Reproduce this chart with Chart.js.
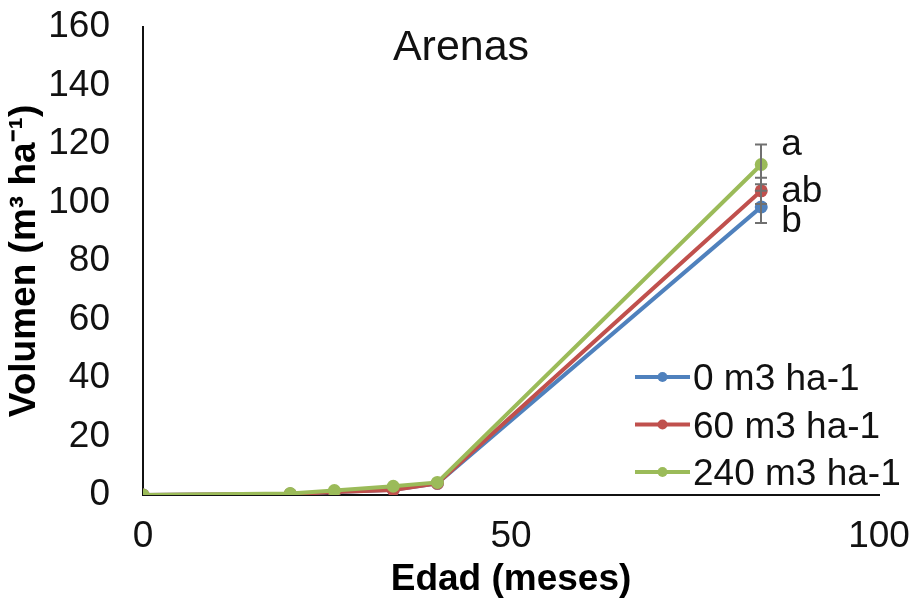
<!DOCTYPE html>
<html>
<head>
<meta charset="utf-8">
<script src="https://cdn.jsdelivr.net/npm/chart.js@4"></script>
<style>
  html, body { margin: 0; padding: 0; background: #fff; }
  canvas { display: block; }
</style>
</head>
<body>
<canvas id="c" width="916" height="606"></canvas>
<script>
// ---- data ----
const ages = [0, 20, 26, 34, 40, 84];
const seriesLabels = ['0 m3 ha-1', '60 m3 ha-1', '240 m3 ha-1'];
const vol0 = [0, 0.3, 1.0, 1.8, 4.0, 98.5];
const vol60 = [0, 0.3, 1.0, 1.7, 4.0, 104];
const vol240 = [0, 0.5, 1.5, 3.0, 4.3, 113];
const err0 = [0, 0, 0, 0, 0, 5.5];
const err60 = [0, 0, 0, 0, 0, 4.5];
const err240 = [0, 0, 0, 0, 0, 6.8];
const letterTexts = ['b', 'ab', 'a'];
const letterY = [89.9, 100.2, 116.2];
const letterX = [84, 84, 84];
const yTickValues = [0, 20, 40, 60, 80, 100, 120, 140, 160];
const xTickValues = [0, 50, 100];
const chartTitle = 'Arenas';

const colors = ['#4F81BD', '#C0504D', '#9BBB59'];
const FONT = "'Liberation Sans', Arial, sans-serif";

function pts(xs, ys) { return xs.map((x, i) => ({ x: x, y: ys[i] })); }

const seriesValues = [vol0, vol60, vol240];
const seriesErrors = [err0, err60, err240];

const datasets = seriesValues.map((vals, i) => ({
  label: seriesLabels[i],
  data: pts(ages, vals),
  borderColor: colors[i],
  backgroundColor: colors[i],
  borderWidth: 4,
  pointRadius: 6.5,
  pointHoverRadius: 6.5,
  pointBorderWidth: 0,
  tension: 0,
  order: 2 - i,
  errors: seriesErrors[i]
}));

function noPad(s) { s.paddingTop = 0; s.paddingBottom = 0; s.paddingLeft = 0; s.paddingRight = 0; }

const extras = {
  id: 'extras',
  afterDatasetsDraw(chart) {
    const ctx = chart.ctx;
    const xs = chart.scales.x, ys = chart.scales.y;
    ctx.save();
    ctx.strokeStyle = '#707070';
    ctx.lineWidth = 2;
    chart.data.datasets.forEach((ds) => {
      ds.data.forEach((p, j) => {
        const e = ds.errors[j];
        if (!e) return;
        const px = Math.round(xs.getPixelForValue(p.x));
        const top = ys.getPixelForValue(p.y + e);
        const bot = ys.getPixelForValue(p.y - e);
        ctx.beginPath();
        ctx.moveTo(px, top); ctx.lineTo(px, bot);
        ctx.moveTo(px - 6, top); ctx.lineTo(px + 6, top);
        ctx.moveTo(px - 6, bot); ctx.lineTo(px + 6, bot);
        ctx.stroke();
      });
    });
    ctx.restore();
  },
  afterDraw(chart) {
    const ctx = chart.ctx;
    const ca = chart.chartArea;
    const xs = chart.scales.x, ys = chart.scales.y;
    ctx.save();
    ctx.fillStyle = '#111';
    ctx.textBaseline = 'alphabetic';
    // title inside the plot
    ctx.font = '43px ' + FONT;
    ctx.textAlign = 'center';
    ctx.fillText(chartTitle, ca.left + 318, ca.top + 33);
    // significance letters
    ctx.font = '37px ' + FONT;
    ctx.textAlign = 'left';
    letterTexts.forEach((t, i) => {
      ctx.fillText(t, xs.getPixelForValue(letterX[i]) + 20, ys.getPixelForValue(letterY[i]));
    });
    // legend
    const lx = ca.left + 492;
    const ly0 = ca.top + 350;
    const step = 47.5;
    chart.data.datasets.forEach((ds, i) => {
      const y = ly0 + i * step;
      ctx.strokeStyle = ds.borderColor;
      ctx.lineWidth = 4;
      ctx.beginPath();
      ctx.moveTo(lx, y); ctx.lineTo(lx + 55, y);
      ctx.stroke();
      ctx.fillStyle = ds.borderColor;
      ctx.beginPath();
      ctx.arc(lx + 27.5, y, 5, 0, Math.PI * 2);
      ctx.fill();
      ctx.fillStyle = '#111';
      ctx.fillText(ds.label, lx + 58, y + 13);
    });
    ctx.restore();
  }
};

new Chart(document.getElementById('c'), {
  type: 'line',
  data: { datasets: datasets },
  plugins: [extras],
  options: {
    responsive: false,
    animation: false,
    devicePixelRatio: 1,
    layout: { autoPadding: false, padding: { top: 27, right: 37, left: 0, bottom: 0 } },
    plugins: { legend: { display: false }, tooltip: { enabled: false } },
    scales: {
      x: {
        type: 'linear',
        min: 0, max: 100,
        afterBuildTicks(s) { s.ticks = xTickValues.map(v => ({ value: v })); },
        afterFit(s) { s.height = 111; noPad(s); },
        grid: { display: false, drawTicks: false },
        border: { display: true, color: '#111', width: 2 },
        ticks: { padding: 20, color: '#111', maxRotation: 0, font: { family: FONT, size: 37 } },
        title: { display: true, text: 'Edad (meses)', color: '#000',
                 font: { family: FONT, size: 37, weight: 'bold' }, padding: { top: 0, bottom: 4 } }
      },
      y: {
        type: 'linear',
        min: 0, max: 160,
        afterBuildTicks(s) { s.ticks = yTickValues.map(v => ({ value: v })); },
        afterFit(s) { s.width = 143; noPad(s); },
        grid: { display: false, drawTicks: false },
        border: { display: true, color: '#111', width: 2 },
        ticks: { padding: 33, color: '#111', font: { family: FONT, size: 37 } },
        title: { display: true, text: 'Volumen (m³ ha⁻¹)', color: '#000',
                 font: { family: FONT, size: 37, weight: 'bold' }, padding: { top: 3, bottom: 0 } }
      }
    }
  }
});
</script>
</body>
</html>
